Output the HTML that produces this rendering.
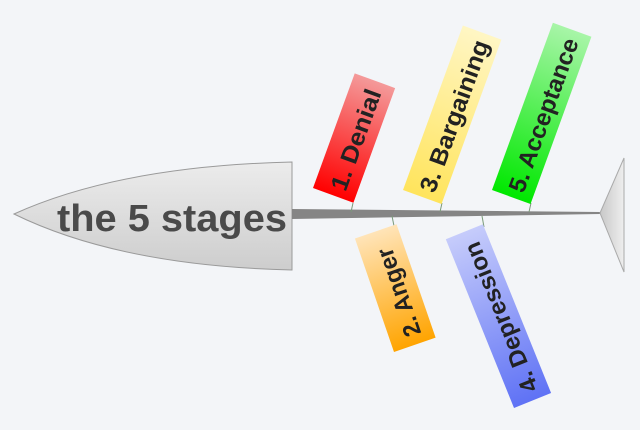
<!DOCTYPE html>
<html><head><meta charset="utf-8"><style>
html,body{margin:0;padding:0;background:#f3f5f8;}
svg{display:block;}
text{font-family:"Liberation Sans",sans-serif;font-weight:bold;}
</style></head><body>
<svg width="640" height="430" viewBox="0 0 640 430" xmlns="http://www.w3.org/2000/svg">
<defs>
<linearGradient id="hd" x1="0" y1="0" x2="0" y2="1"><stop offset="0" stop-color="#ececec"/><stop offset="1" stop-color="#cdcdcd"/></linearGradient>
<linearGradient id="tl" x1="0" y1="0" x2="1" y2="0"><stop offset="0" stop-color="#c8c8c8"/><stop offset="1" stop-color="#eeeeee"/></linearGradient>
<linearGradient id="r" x1="0" y1="0" x2="1" y2="0"><stop offset="0" stop-color="#ff0000"/><stop offset="1" stop-color="#f49a9a"/></linearGradient>
<linearGradient id="y" x1="0" y1="0" x2="1" y2="0"><stop offset="0" stop-color="#ffe45c"/><stop offset="1" stop-color="#fff6c4"/></linearGradient>
<linearGradient id="g" x1="0" y1="0" x2="1" y2="0"><stop offset="0" stop-color="#00e800"/><stop offset="1" stop-color="#a8f5a8"/></linearGradient>
<linearGradient id="o" x1="0" y1="0" x2="1" y2="0"><stop offset="0" stop-color="#ffa400"/><stop offset="1" stop-color="#ffe4b8"/></linearGradient>
<linearGradient id="b" x1="0" y1="0" x2="1" y2="0"><stop offset="0" stop-color="#5f72f5"/><stop offset="1" stop-color="#c6ccfb"/></linearGradient>
</defs>
<path d="M14,214 Q120,166 292,162 L292,270 Q120,266 14,214 Z" fill="url(#hd)" stroke="#9a9a9a" stroke-width="1"/>
<text x="57" y="231" font-size="38" fill="#4a4a4a" textLength="230" lengthAdjust="spacingAndGlyphs">the 5 stages</text>
<path d="M292,209 L600,212 L600,214 L292,219 Z" fill="#858585"/>
<path d="M600,213 L624,158 L624,272 Z" fill="url(#tl)" stroke="#aaa" stroke-width="1"/>
<g stroke="#7a9a7a" stroke-width="1">
<line x1="353" y1="203" x2="351" y2="212"/>
<line x1="442" y1="203" x2="440" y2="212"/>
<line x1="531" y1="203" x2="529" y2="212"/>
<line x1="394" y1="226" x2="392" y2="216"/>
<line x1="484" y1="227" x2="482" y2="216"/>
</g>
<g transform="translate(313,188) rotate(-70)">
<rect x="0" y="0" width="122" height="43" fill="url(#r)"/>
<text x="7" y="32" font-size="24" fill="#222" textLength="106" lengthAdjust="spacingAndGlyphs">1. Denial</text>
</g>
<g transform="translate(403,190) rotate(-70)">
<rect x="0" y="0" width="175" height="41" fill="url(#y)"/>
<text x="7" y="31" font-size="24" fill="#222" textLength="160" lengthAdjust="spacingAndGlyphs">3. Bargaining</text>
</g>
<g transform="translate(492,190) rotate(-70)">
<rect x="0" y="0" width="178" height="41" fill="url(#g)"/>
<text x="7" y="31" font-size="24" fill="#222" textLength="162" lengthAdjust="spacingAndGlyphs">5. Acceptance</text>
</g>
<g transform="translate(394,352) rotate(-109)">
<rect x="0" y="0" width="120" height="44" fill="url(#o)"/>
<text x="9" y="32" font-size="24" fill="#222" textLength="92" lengthAdjust="spacingAndGlyphs">2. Anger</text>
</g>
<g transform="translate(514,408) rotate(-112)">
<rect x="0" y="0" width="182" height="40" fill="url(#b)"/>
<text x="9" y="30" font-size="24" fill="#222" textLength="160" lengthAdjust="spacingAndGlyphs">4. Depression</text>
</g>
</svg>
</body></html>
